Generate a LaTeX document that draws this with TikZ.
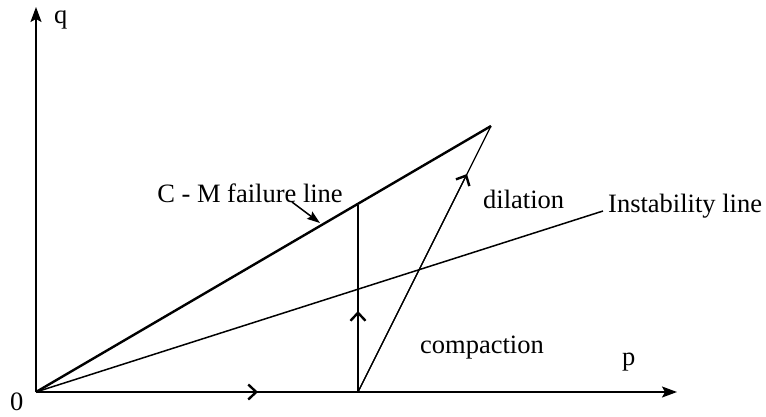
\documentclass[tikz,border=0pt]{standalone}
\usepackage{fontspec}
\setmainfont{Liberation Serif}
\usetikzlibrary{arrows.meta}
\begin{document}
\begin{tikzpicture}[x=1pt,y=-1pt,
  lbl/.style={inner sep=0pt,anchor=base west,font=\fontsize{26.5}{30}\selectfont},
  axis/.style={line width=1.5pt,-{Stealth[length=15pt,width=11pt,inset=3pt]}},
  barbtip/.style={-{Straight Barb[length=8pt,width=15pt,line width=2.4pt]}},
  barb/.style={line width=1.5pt,barbtip}]
\useasboundingbox (0,0) rectangle (766,416);
\coordinate (O) at (36,392);
\coordinate (Xend) at (677,392);
\coordinate (Yend) at (36,7);
\coordinate (F) at (491,126);
\coordinate (I) at (603,211);
\coordinate (B) at (358,392);
\coordinate (T) at (358,205);
\coordinate (H) at (258,392);
\coordinate (V) at (358,311);
\coordinate (D) at (467,174);
\coordinate (P1) at (292,202);
\coordinate (P2) at (320,223);
% axes
\draw[axis] (O) -- (Xend);
\draw[axis] (O) -- (Yend);
% lines
\draw[line width=2.4pt] (O) -- (F);
\draw[line width=1.5pt] (O) -- (I);
\draw[line width=1.5pt] (B) -- (T);
\draw[line width=1.2pt] (B) -- (F);
% direction arrows
\draw[barb] (O) -- (H);
\draw[barb] (B) -- (V);
\draw[line width=1.2pt,barbtip] (B) -- (D);
\draw[line width=1.5pt,-{Stealth[length=13pt,width=9pt,inset=2pt]}] (P1) -- (P2);
% labels
\node[lbl] (q) at (54,23) {q};
\node[lbl] (p) at (622,365) {p};
\node[lbl] (zero) at (10,410) {0};
\node[lbl,anchor=base] (cm) at (250,202) {C - M failure line};
\node[lbl] (dil) at (483,208) {dilation};
\node[lbl] (ins) at (608,212) {Instability line};
\node[lbl] (comp) at (420,353) {compaction};
\end{tikzpicture}
\end{document}
